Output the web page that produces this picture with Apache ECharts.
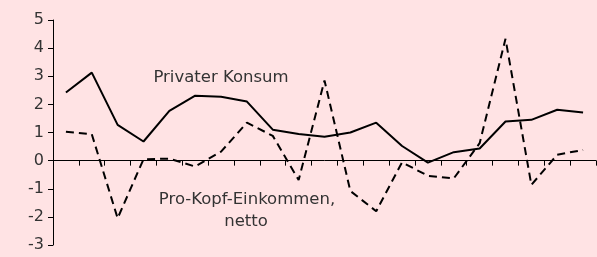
<!DOCTYPE html>
<html><head><meta charset="utf-8">
<script src="https://cdn.jsdelivr.net/npm/echarts@6/dist/echarts.min.js"></script>
<style>html,body{margin:0;padding:0;background:#FFE3E4;}#c{width:597px;height:257px;}</style>
</head><body><div id="c"></div>
<script>
var categories = ['1','2','3','4','5','6','7','8','9','10','11','12','13','14','15','16','17','18','19','20','21'];
var konsum = [2.42, 3.13, 1.27, 0.68, 1.77, 2.31, 2.27, 2.1, 1.1, 0.95, 0.85, 1.0, 1.35, 0.52, -0.07, 0.3, 0.43, 1.39, 1.45, 1.81, 1.71];
var einkommen = [1.03, 0.94, -2.05, 0.05, 0.07, -0.21, 0.32, 1.35, 0.88, -0.69, 2.85, -1.08, -1.8, -0.06, -0.54, -0.63, 0.62, 4.33, -0.86, 0.21, 0.38];
var yTicks = [-3, -2, -1, 0, 1, 2, 3, 4, 5];
var labelKonsum = 'Privater Konsum';
var labelEinkommen1 = 'Pro-Kopf-Einkommen,';
var labelEinkommen2 = 'netto';

var chart = echarts.init(document.getElementById('c'));
var font = 'DejaVu Sans';
var tfont = '16.5px "DejaVu Sans"';
chart.setOption({
  backgroundColor: '#FFE3E4',
  animation: false,
  grid: {left: 53, right: 1, top: 20, bottom: 12},
  xAxis: {
    type: 'category', data: categories, boundaryGap: true,
    axisLine: {onZero: true, lineStyle: {color: '#000', width: 1}},
    axisTick: {show: true, inside: false, length: 5, lineStyle: {color: '#000'}},
    axisLabel: {show: false},
    splitLine: {show: false}
  },
  yAxis: {
    type: 'value', min: yTicks[0], max: yTicks[yTicks.length - 1], interval: 1,
    axisLine: {show: true, lineStyle: {color: '#000', width: 1}},
    axisTick: {show: true, length: 5, lineStyle: {color: '#000'}},
    axisLabel: {color: '#333', fontFamily: font, fontSize: 16, margin: 9},
    splitLine: {show: false}
  },
  series: [
    {type: 'line', data: konsum, symbol: 'none', lineStyle: {color: '#000', width: 2}},
    {type: 'line', data: einkommen, symbol: 'none', lineStyle: {color: '#000', width: 2, type: [8, 5]}}
  ],
  graphic: [
    {type: 'text', x: 221, y: 78, style: {text: labelKonsum, fill: '#333', font: tfont, align: 'center', verticalAlign: 'middle'}},
    {type: 'text', x: 247, y: 200, style: {text: labelEinkommen1, fill: '#333', font: tfont, align: 'center', verticalAlign: 'middle'}},
    {type: 'text', x: 246, y: 222, style: {text: labelEinkommen2, fill: '#333', font: tfont, align: 'center', verticalAlign: 'middle'}}
  ]
});
</script></body></html>
